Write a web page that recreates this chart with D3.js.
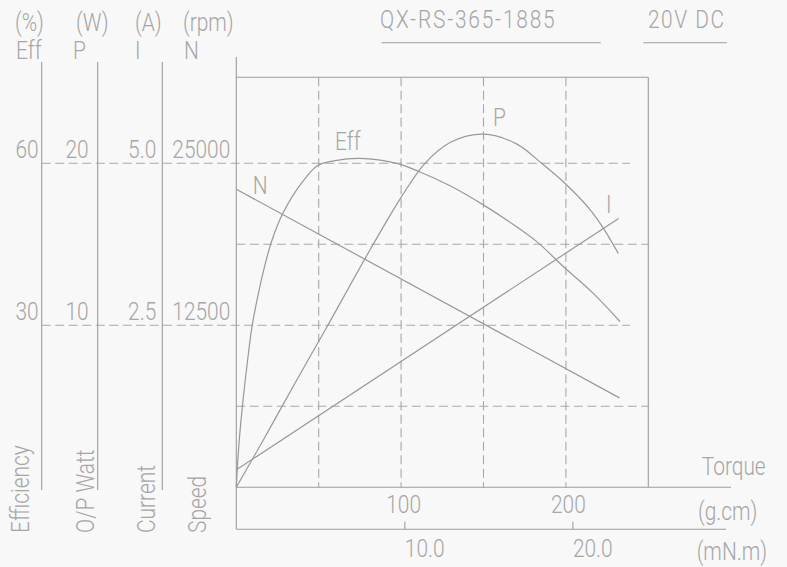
<!DOCTYPE html>
<html><head><meta charset="utf-8">
<script src="https://cdn.jsdelivr.net/npm/d3@7"></script>
<style>
html,body{margin:0;padding:0;background:#f8f8f8;}
svg{display:block;background:#f8f8f8;}
text{font-family:Roboto,"Open Sans",sans-serif;font-weight:300;fill:#a6a6a6;font-size:22px;}
</style></head><body>
<svg id="chart" width="787" height="567"></svg>
<script>
// ---------- data ----------
const torqueGrid   = [50, 100, 150, 200];          // g.cm, dashed verticals
const torqueTicks  = [100, 200];                   // g.cm labels
const mNmTicks     = [10.0, 20.0];                 // mN.m labels
const effTicks     = [30, 60];                     // %
const powerTicks   = [10, 20];                     // W
const currentTicks = [2.5, 5.0];                   // A
const speedTicks   = [12500, 25000];               // rpm
const speedMinor   = [6250, 18750];                // rpm, inner dashed lines

const speedTorque   = [0, 232.5];
const speedValues   = [23000, 6900];
const currentTorque = [0, 232];
const currentValues = [0.27, 4.15];
const powerTorque = [0, 16.4, 28, 45.3, 54.9, 81.1, 100, 114.5, 130, 149.9, 170, 185.3, 200.5, 215, 222.7, 231.8];
const powerValues = [0, 2.92, 5.04, 8.17, 9.88, 14.65, 17.9, 20.0, 21.3, 21.8, 21.2, 20.0, 18.66, 17.1, 16.0, 14.44];
const effTorque = [0, 1.33, 3.46, 6.5, 9.5, 13.2, 17.4, 21.7, 28.2, 40, 49.4, 60, 75, 97.3, 111.5, 130, 149.9, 165, 182.3, 198.4, 216.6, 232.8];
const effValues = [0, 6.9, 14.3, 22.6, 29.7, 35.6, 41.2, 45.8, 50.7, 56.5, 59.6, 60.5, 60.9, 60, 58.4, 55.8, 52.3, 49.3, 45.5, 40.9, 35.9, 30.7];

// ---------- layout ----------
const X0 = 236.3, X1 = 648.3, YB = 487.3, YT = 163.3, FRAME_TOP = 77.3;
const LINE = "#9c9c9c", DASH = "#a8a8a8";
const svg = d3.select("#chart");

const x  = d3.scaleLinear().domain([0, 250]).range([X0, X1]);
const xm = d3.scaleLinear().domain([0, 250 * 0.0980665]).range([X0, X1]);
const yEff = d3.scaleLinear().domain([0, 60]).range([YB, YT]);
const yP   = d3.scaleLinear().domain([0, 20]).range([YB, YT]);
const yI   = d3.scaleLinear().domain([0, 5]).range([YB, YT]);
const yN   = d3.scaleLinear().domain([0, 25000]).range([YB, YT]);

function ln(x1, y1, x2, y2, dash, color) {
  svg.append("line").attr("x1", x1).attr("y1", y1).attr("x2", x2).attr("y2", y2)
    .attr("stroke", color || LINE).attr("stroke-width", 1.1)
    .attr("stroke-dasharray", dash ? "9,4.5" : null);
}
const SX = 0.95, SY = 1.14;
function txt(s, px, py, opts) {
  opts = opts || {};
  const t = svg.append("text").attr("text-anchor", opts.anchor || "start")
    .attr("transform", `translate(${px},${py})` + (opts.rot ? ` rotate(${opts.rot})` : "") + ` scale(${SX},${SY})`)
    .text(s);
  if (opts.ls) t.style("letter-spacing", opts.ls + "px");
  return t;
}
function restyle(sel) {
  sel.each(function () {
    const t = d3.select(this);
    const tx = +t.attr("x") || 0, ty = +t.attr("y") || 0;
    t.attr("x", null).attr("y", null).attr("dy", null).attr("fill", null)
      .attr("transform", `translate(${tx},${ty}) scale(${SX},${SY})`);
  });
}

// ---------- title ----------
txt("QX-RS-365-1885", 380, 28, {ls: 1.9});
ln(381.7, 42.7, 600.7, 42.7);
txt("20V DC", 648, 28, {ls: 1.6});
ln(643.3, 42.7, 726.7, 42.7);

// ---------- left axes ----------
const axes = [
  {unit: "(%)",   name: "Eff", ux: 15,  nx: 16,  lx: 41.7,  scale: yEff, ticks: effTicks,     fmt: d3.format("d"),   gap: 3, title: "Efficiency", tx: 29},
  {unit: "(W)",   name: "P",   ux: 76,  nx: 73,  lx: 97.7,  scale: yP,   ticks: powerTicks,   fmt: d3.format("d"),   gap: 9, title: "O/P Watt",   tx: 94},
  {unit: "(A)",   name: "I",   ux: 135, nx: 135, lx: 162.3, scale: yI,   ticks: currentTicks, fmt: d3.format(".1f"), gap: 6, title: "Current",    tx: 155},
  {unit: "(rpm)", name: "N",   ux: 183, nx: 184, lx: X0,    scale: yN,   ticks: speedTicks,   fmt: d3.format("d"),   gap: 6, title: "Speed",      tx: 206}
];
axes.forEach(a => {
  txt(a.unit, a.ux, 31);
  txt(a.name, a.nx, 59);
  if (a.lx !== X0) ln(a.lx, 62, a.lx, 490);
  txt(a.title, a.tx, 533, {rot: -90});
  const g = svg.append("g").attr("transform", `translate(${a.lx - a.gap},0)`)
    .call(d3.axisLeft(a.scale).tickValues(a.ticks).tickFormat(a.fmt).tickSize(0).tickPadding(0));
  g.select(".domain").remove();
  g.attr("font-family", null).attr("font-size", null);
  g.selectAll("text").attr("y", -6).call(restyle);
});

// ---------- grid ----------
speedTicks.forEach(v => ln(41.7, yN(v), 630, yN(v), true, DASH));
speedMinor.forEach(v => ln(X0, yN(v), X1, yN(v), true, DASH));
torqueGrid.forEach(v => ln(x(v), FRAME_TOP, x(v), YB, true, DASH));

// ---------- frame & bottom axes ----------
ln(X0, FRAME_TOP, X1, FRAME_TOP);
ln(X1, FRAME_TOP, X1, YB);
ln(X0, 57, X0, 529.3);
ln(X0, YB, 731, YB);
ln(X0, 529.3, 726, 529.3);

const gx = svg.append("g").attr("transform", `translate(2,${YB})`)
  .call(d3.axisBottom(x).tickValues(torqueTicks).tickFormat(d3.format("d")).tickSize(0).tickPadding(0));
gx.select(".domain").remove();
gx.attr("font-family", null).attr("font-size", null);
gx.selectAll("text").attr("y", 26).call(restyle);

const gm = svg.append("g").attr("transform", `translate(0,529.3)`)
  .call(d3.axisBottom(xm).tickValues(mNmTicks).tickFormat(d3.format(".1f")).tickSize(-7.6).tickPadding(0));
gm.select(".domain").remove();
gm.attr("font-family", null).attr("font-size", null);
gm.selectAll("line").attr("stroke", LINE).attr("stroke-width", 1.1);
gm.selectAll("text").attr("y", 28).attr("x", 0).attr("text-anchor", "start").call(restyle);

txt("Torque", 701.7, 475);
txt("(g.cm)", 698, 520);
txt("(mN.m)", 696.7, 560);

// ---------- curves ----------
function curve(xs, ys, yScale, interp) {
  const pts = xs.map((t, i) => [x(t), yScale(ys[i])]);
  svg.append("path").attr("d", d3.line().curve(interp)(pts))
    .attr("fill", "none").attr("stroke", "#989898").attr("stroke-width", 1.2);
}
curve(speedTorque, speedValues, yN, d3.curveLinear);
curve(currentTorque, currentValues, yI, d3.curveLinear);
curve(powerTorque, powerValues, yP, d3.curveCatmullRom.alpha(0.5));
curve(effTorque, effValues, yEff, d3.curveCatmullRom.alpha(0.5));

txt("N", 252.7, 194);
txt("Eff", 335, 150);
txt("P", 493, 126);
txt("I", 606, 213);
</script>
</body></html>
